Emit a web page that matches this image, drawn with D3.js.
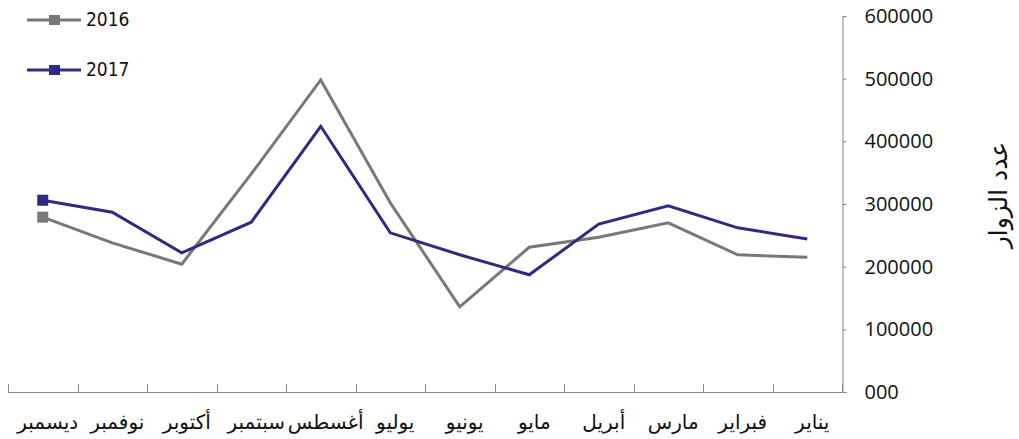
<!DOCTYPE html>
<html>
<head>
<meta charset="utf-8">
<script src="https://cdn.jsdelivr.net/npm/d3@7"></script>
<style>
  body { margin: 0; background: #fff; }
  svg { display: block; }
</style>
</head>
<body>
<div id="chart"></div>
<script>
// months, January first (drawn right to left)
var months = ["يناير", "فبراير", "مارس", "أبريل", "مايو", "يونيو",
              "يوليو", "أغسطس", "سبتمبر", "أكتوبر", "نوفمبر", "ديسمبر"];
var visitors2016 = [215000, 219000, 270000, 247000, 231000, 136000,
                    302000, 498000, 348000, 204000, 238000, 279000];
var visitors2017 = [244000, 262000, 297000, 268000, 187000, 219000,
                    254000, 424000, 271000, 222000, 287000, 306000];
var yTicks = [0, 100000, 200000, 300000, 400000, 500000, 600000];
var yTickLabels = ["000", "100000", "200000", "300000", "400000", "500000", "600000"];
var seriesNames = ["2016", "2017"];
var yTitle = "عدد الزوار";

var width = 1019, height = 439;
var colors = ["#787878", "#2e2b82"];
var axisColor = "#8a8a8a";

var svg = d3.select("#chart").append("svg")
    .attr("width", width)
    .attr("height", height);

// January at the right, December at the left
var x = d3.scaleBand()
    .domain(months)
    .range([842, 8]);

var y = d3.scaleLinear()
    .domain([0, 600000])
    .range([392, 16]);

// x axis line + ticks at band edges (pointing up)
svg.append("line")
    .attr("x1", 8).attr("x2", 845)
    .attr("y1", y(0) + 0.5).attr("y2", y(0) + 0.5)
    .attr("stroke", axisColor);

var edges = months.map(function(m) { return x(m); }).concat([x.range()[0]]);
svg.selectAll(".xtick")
    .data(edges)
    .enter().append("line")
    .attr("class", "xtick")
    .attr("x1", function(d) { return Math.round(d) + 0.5; })
    .attr("x2", function(d) { return Math.round(d) + 0.5; })
    .attr("y1", y(0) - 8)
    .attr("y2", y(0))
    .attr("stroke", axisColor);

// month labels
svg.selectAll(".month")
    .data(months)
    .enter().append("text")
    .attr("class", "month")
    .attr("x", function(d) { return x(d) + x.bandwidth() / 2 + 5; })
    .attr("y", 429)
    .attr("text-anchor", "middle")
    .style("font-family", "DejaVu Sans")
    .style("font-size", "20px")
    .style("fill", "#111")
    .text(function(d) { return d; });

// y axis on the right
var yAxis = svg.append("g")
    .attr("transform", "translate(842.5,0)")
    .call(d3.axisRight(y)
        .tickValues(yTicks)
        .tickSize(4)
        .tickPadding(18)
        .tickFormat(function(d, i) { return yTickLabels[i]; }));

yAxis.select(".domain").attr("stroke", axisColor);
yAxis.selectAll(".tick line").attr("stroke", axisColor);
yAxis.selectAll(".tick text")
    .style("font-family", "Open Sans")
    .style("font-size", "20px")
    .style("fill", "#111");

// y title
svg.append("text")
    .attr("transform", "translate(1007,195) rotate(-90)")
    .attr("text-anchor", "middle")
    .style("font-family", "DejaVu Sans")
    .style("font-size", "25px")
    .style("fill", "#111")
    .text(yTitle);

// lines
var line = d3.line()
    .x(function(d, i) { return x(months[i]) + x.bandwidth() / 2; })
    .y(function(d) { return y(d); });

var allSeries = [visitors2016, visitors2017];

allSeries.forEach(function(vals, s) {
    svg.append("path")
        .datum(vals)
        .attr("fill", "none")
        .attr("stroke", colors[s])
        .attr("stroke-width", 3)
        .attr("stroke-linejoin", "miter")
        .attr("d", line);

    // marker only on the last point (December)
    var last = vals.length - 1;
    svg.append("rect")
        .attr("x", x(months[last]) + x.bandwidth() / 2 - 5.5)
        .attr("y", y(vals[last]) - 5.5)
        .attr("width", 11)
        .attr("height", 11)
        .attr("fill", colors[s]);
});

// legend
var legend = svg.selectAll(".legend")
    .data(seriesNames)
    .enter().append("g")
    .attr("class", "legend")
    .attr("transform", function(d, i) { return "translate(27," + (20 + i * 50) + ")"; });

legend.append("line")
    .attr("x1", 0).attr("x2", 54)
    .attr("stroke", function(d, i) { return colors[i]; })
    .attr("stroke-width", 3);

legend.append("rect")
    .attr("x", 22).attr("y", -5)
    .attr("width", 11).attr("height", 10)
    .attr("fill", function(d, i) { return colors[i]; });

legend.append("text")
    .attr("x", 59)
    .attr("y", 6)
    .style("font-family", "DejaVu Sans, sans-serif")
    .style("font-stretch", "condensed")
    .style("font-size", "19px")
    .style("fill", "#111")
    .text(function(d) { return d; });
</script>
</body>
</html>
